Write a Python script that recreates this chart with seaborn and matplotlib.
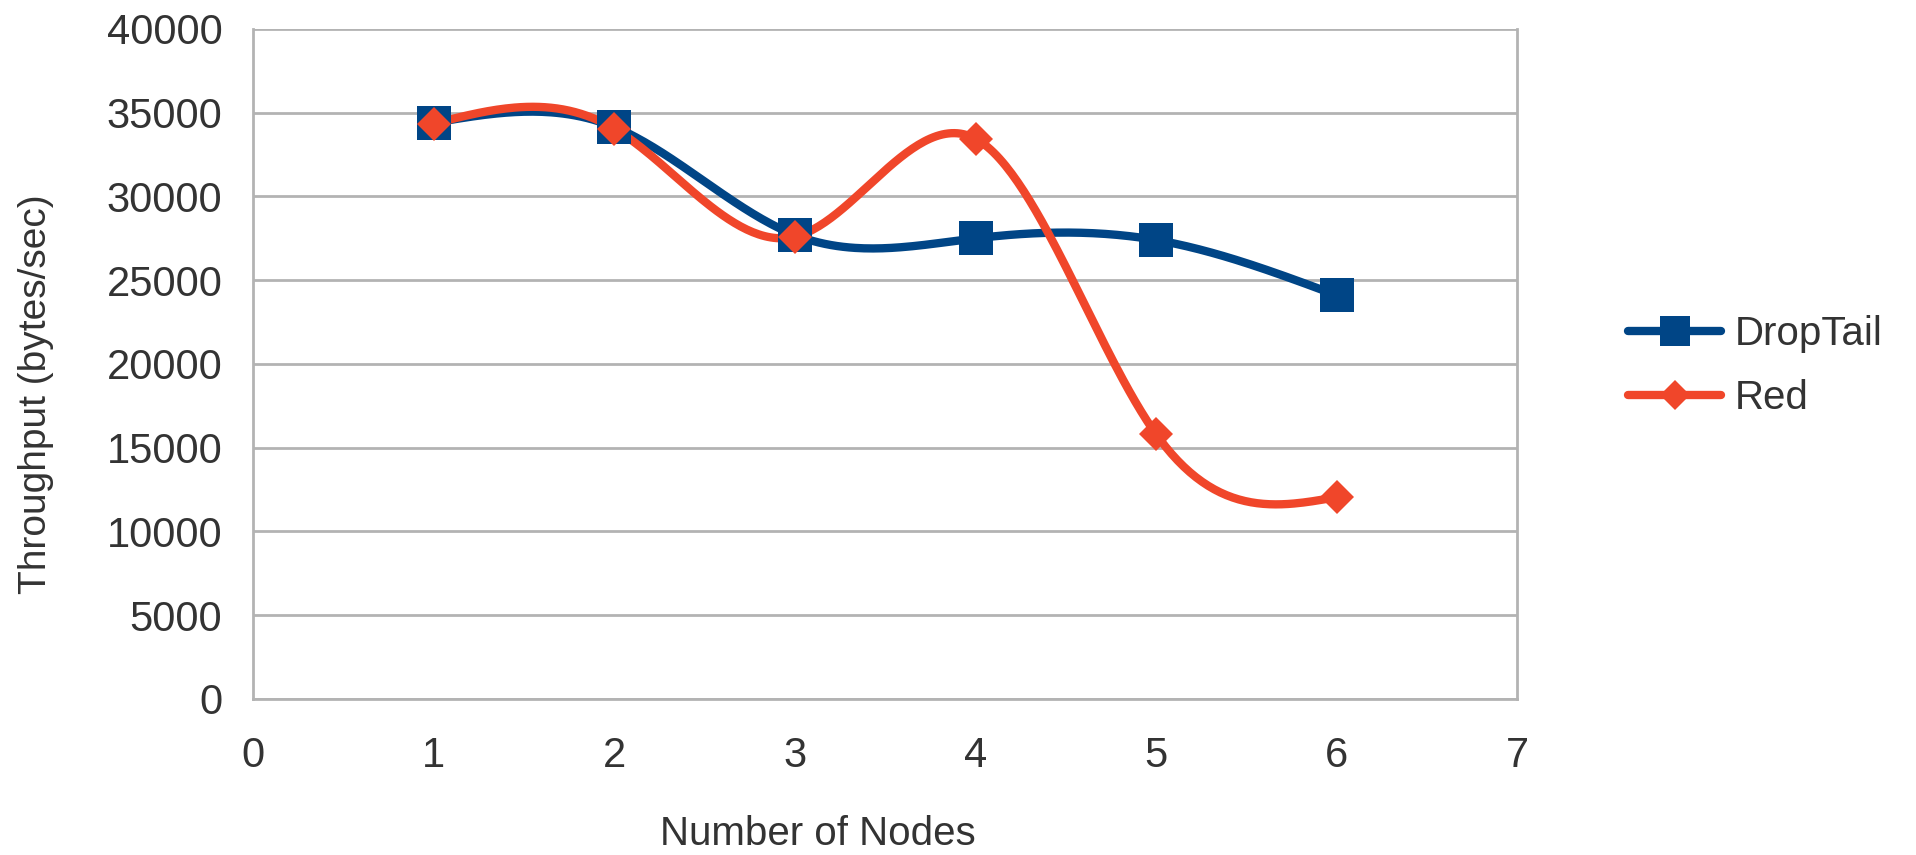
import numpy as np
import pandas as pd
import matplotlib
matplotlib.use("Agg")
import matplotlib.pyplot as plt
from matplotlib.lines import Line2D
import seaborn as sns

nodes = [1, 2, 3, 4, 5, 6]
droptail = [34400, 34150, 27700, 27500, 27400, 24100]
red = [34350, 34050, 27600, 33450, 15800, 12050]
series_names = ["DropTail", "Red"]
x_ticks = [0, 1, 2, 3, 4, 5, 6, 7]
y_ticks = [0, 5000, 10000, 15000, 20000, 25000, 30000, 35000, 40000]

sns.set_theme(style="white")
plt.rcParams['font.family'] = ['Liberation Sans', 'DejaVu Sans']


def natural_spline(x, y, n=60):
    x = np.asarray(x, float)
    y = np.asarray(y, float)
    m = len(x)
    h = np.diff(x)
    A = np.zeros((m, m))
    b = np.zeros(m)
    A[0, 0] = 1
    A[-1, -1] = 1
    for i in range(1, m - 1):
        A[i, i - 1] = h[i - 1]
        A[i, i] = 2 * (h[i - 1] + h[i])
        A[i, i + 1] = h[i]
        b[i] = 3 * ((y[i + 1] - y[i]) / h[i] - (y[i] - y[i - 1]) / h[i - 1])
    c = np.linalg.solve(A, b)
    xs, ys = [], []
    for i in range(m - 1):
        bi = (y[i + 1] - y[i]) / h[i] - h[i] * (2 * c[i] + c[i + 1]) / 3
        di = (c[i + 1] - c[i]) / (3 * h[i])
        t = np.linspace(0, h[i], n, endpoint=(i == m - 2))
        xs.append(x[i] + t)
        ys.append(y[i] + bi * t + c[i] * t ** 2 + di * t ** 3)
    return np.concatenate(xs), np.concatenate(ys)


colors = {"DropTail": "#004586", "Red": "#f0462a"}
markers = {"DropTail": "s", "Red": "D"}
msizes = {"DropTail": 24, "Red": 17}
leg_msizes = {"DropTail": 22, "Red": 15}
text_color = "#333333"

fig = plt.figure(figsize=(19.16, 8.55), dpi=100)
ax = fig.add_axes([0.132, 0.1825, 0.660, 0.7836])

for name, vals in zip(series_names, [droptail, red]):
    sx, sy = natural_spline(nodes, vals)
    curve = pd.DataFrame({"x": sx, "y": sy})
    sns.lineplot(data=curve, x="x", y="y", ax=ax, color=colors[name],
                 linewidth=6, sort=False, estimator=None, zorder=3)

for name, vals in zip(series_names, [droptail, red]):
    pts = pd.DataFrame({"x": nodes, "y": vals})
    ax.plot(pts["x"], pts["y"], linestyle="none", marker=markers[name],
            markersize=msizes[name], color=colors[name], zorder=4,
            markeredgewidth=0)

ax.set_xlim(0, 7)
ax.set_ylim(0, 40000)
ax.set_xticks(x_ticks)
ax.set_yticks(y_ticks)
ax.set_xticklabels([str(t) for t in x_ticks])
ax.set_yticklabels([str(t) for t in y_ticks])
ax.grid(axis="y", color="#b3b3b3", linewidth=2)
ax.set_axisbelow(True)
for s in ["left", "right", "bottom"]:
    ax.spines[s].set_color("#b3b3b3")
    ax.spines[s].set_linewidth(2)
ax.spines["top"].set_visible(False)
ax.tick_params(axis="both", which="major", direction="out", length=13,
               width=2, color="#b3b3b3", labelsize=30, labelcolor=text_color)
ax.tick_params(axis="x", pad=14)
ax.tick_params(axis="y", pad=9)

ax.set_xlabel("Number of Nodes", fontsize=29, color=text_color)
ax.set_ylabel("Throughput (bytes/sec)", fontsize=28, color=text_color)
ax.xaxis.label.set_va("baseline")
ax.xaxis.set_label_coords(0.447, -0.218)
ax.yaxis.set_label_coords(-0.157, 0.455)

handles = [Line2D([0], [0], color=colors[n], linewidth=6, marker=markers[n],
                  markersize=leg_msizes[n], markeredgewidth=0) for n in series_names]
leg = fig.legend(handles, series_names, loc="center left",
                 bbox_to_anchor=(0.831, 0.572), frameon=False, fontsize=29,
                 handlelength=2.3, labelspacing=0.65, handletextpad=0.33)
for t in leg.get_texts():
    t.set_color(text_color)

fig.savefig("out.png", dpi=100)
